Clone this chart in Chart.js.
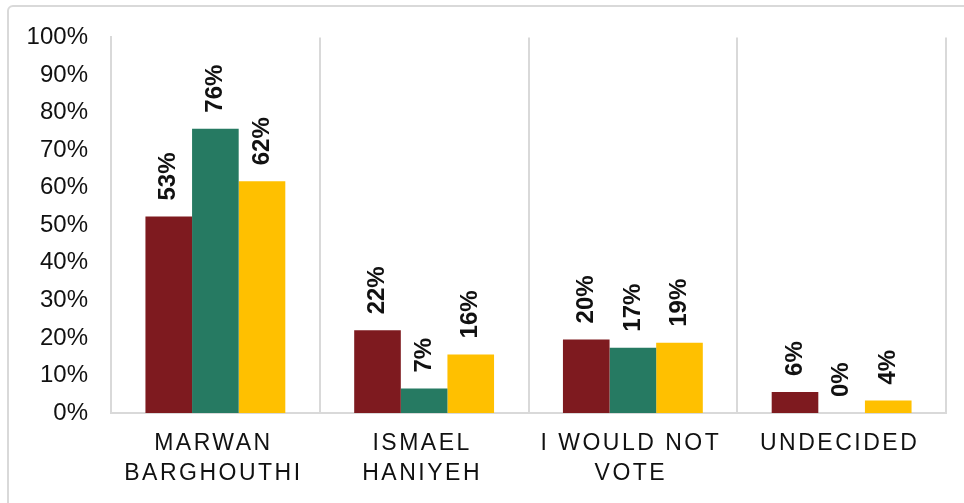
<!DOCTYPE html>
<html>
<head>
<meta charset="utf-8">
<script src="https://cdn.jsdelivr.net/npm/chart.js@4/dist/chart.umd.min.js"></script>
<style>
  html, body { margin: 0; padding: 0; background: #ffffff; overflow: hidden; width: 964px; height: 503px; }
  #frame { position: absolute; left: 7px; top: 5px; width: 1100px; height: 700px; border: 2px solid #d9d9d9; border-radius: 6px; box-sizing: border-box; }
  canvas { position: absolute; left: 0; top: 0; }
</style>
</head>
<body>
<div id="frame"></div>
<canvas id="c" width="964" height="503"></canvas>
<script>
// Categories (each is drawn as two lines)
const categories = [
  ["MARWAN", "BARGHOUTHI"],
  ["ISMAEL", "HANIYEH"],
  ["I WOULD NOT", "VOTE"],
  ["UNDECIDED"]
];
// Bar heights (percent)
const seriesRed    = [52.3, 22.0, 19.6, 5.6];
const seriesGreen  = [75.7, 6.5, 17.4, 0];
const seriesYellow = [61.7, 15.6, 18.7, 3.3];
// Printed labels on bars
const labelsRed    = ["53%", "22%", "20%", "6%"];
const labelsGreen  = ["76%", "7%", "17%", "0%"];
const labelsYellow = ["62%", "16%", "19%", "4%"];
// Y axis ticks
const yTicks = [0, 10, 20, 30, 40, 50, 60, 70, 80, 90, 100];

const FONT = "'Liberation Sans', Arial, Helvetica, sans-serif";
const barLabels = [labelsRed, labelsGreen, labelsYellow];

const valueLabelPlugin = {
  id: 'valueLabels',
  afterDatasetsDraw(chart) {
    const ctx = chart.ctx;
    ctx.save();
    ctx.font = "bold 24px " + FONT;
    ctx.fillStyle = '#111111';
    ctx.textAlign = 'left';
    ctx.textBaseline = 'middle';
    chart.data.datasets.forEach((ds, di) => {
      const meta = chart.getDatasetMeta(di);
      meta.data.forEach((bar, i) => {
        ctx.save();
        ctx.translate(bar.x, bar.y - 16);
        ctx.rotate(-Math.PI / 2);
        ctx.fillText(barLabels[di][i], 0, 0);
        ctx.restore();
      });
    });
    ctx.restore();
  }
};

const categoryLabelPlugin = {
  id: 'catLabels',
  afterDraw(chart) {
    const ctx = chart.ctx;
    const xs = chart.scales.x;
    ctx.save();
    ctx.font = "23px " + FONT;
    ctx.fillStyle = '#111111';
    ctx.textAlign = 'center';
    ctx.textBaseline = 'middle';
    if ('letterSpacing' in ctx) ctx.letterSpacing = '2.5px';
    categories.forEach((lines, i) => {
      const x = xs.getPixelForValue(i) - 2;
      lines.forEach((t, li) => {
        ctx.fillText(t, x, 444 + li * 30);
      });
    });
    ctx.restore();
  }
};

new Chart(document.getElementById('c'), {
  type: 'bar',
  data: {
    labels: categories.map(c => c.join(' ')),
    datasets: [
      { data: seriesRed, backgroundColor: '#7e1a1f' },
      { data: seriesGreen, backgroundColor: '#267a62' },
      { data: seriesYellow, backgroundColor: '#ffc000' }
    ]
  },
  options: {
    responsive: false,
    animation: false,
    devicePixelRatio: 1,
    layout: { padding: { left: 0, right: 18, top: 35, bottom: 0 } },
    datasets: { bar: { categoryPercentage: 0.67, barPercentage: 1.0, borderWidth: 0 } },
    plugins: { legend: { display: false }, tooltip: { enabled: false } },
    scales: {
      x: {
        grid: { offset: true, color: '#d9d9d9', lineWidth: 2, drawTicks: false },
        border: { display: true, color: '#d9d9d9', width: 2 },
        ticks: { display: false },
        afterFit(s) { s.height = 90; }
      },
      y: {
        min: 0, max: 100,
        afterBuildTicks(s) { s.ticks = yTicks.map(v => ({ value: v })); },
        ticks: {
          callback: v => v + '%',
          padding: 23,
          color: '#111111',
          font: { size: 24, family: FONT }
        },
        grid: { display: false, drawTicks: false },
        border: { display: true, color: '#d9d9d9', width: 2 },
        afterFit(s) { s.width = 111; }
      }
    }
  },
  plugins: [valueLabelPlugin, categoryLabelPlugin]
});
</script>
</body>
</html>
